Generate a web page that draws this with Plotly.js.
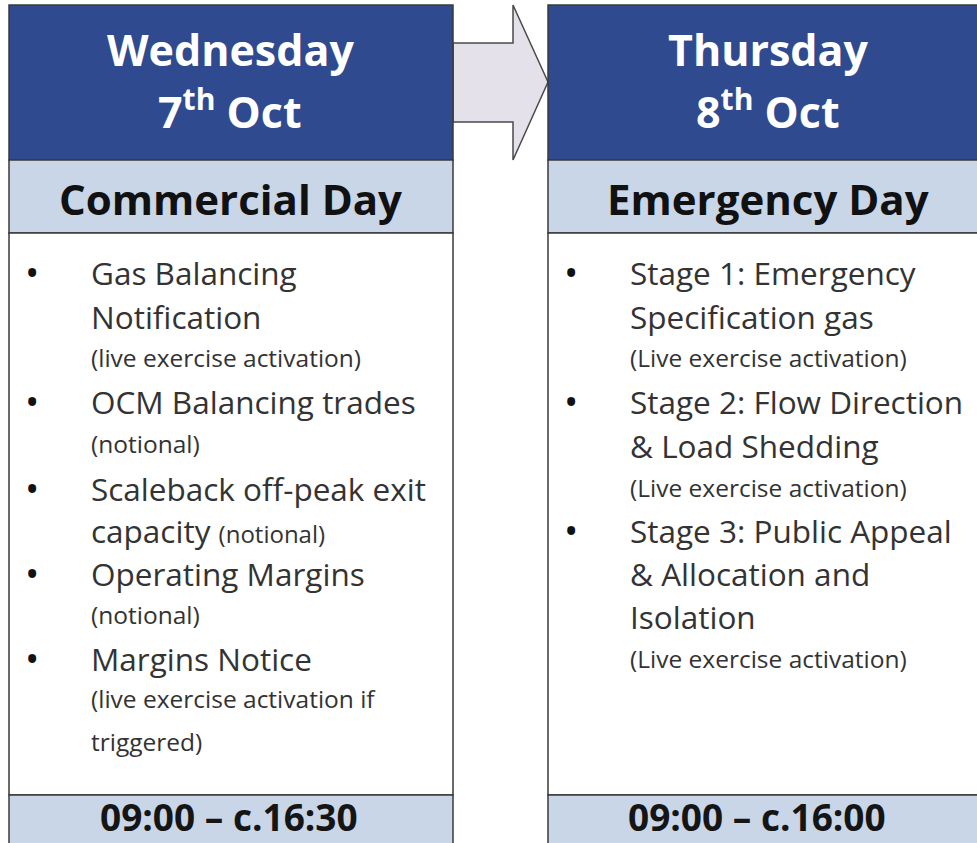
<!DOCTYPE html>
<html>
<head>
<meta charset="utf-8">
<script src="https://cdn.plot.ly/plotly-3.0.1.min.js"></script>
<style>
  html, body { margin: 0; padding: 0; background: #ffffff; }
  #chart { width: 977px; height: 843px; }
</style>
</head>
<body>
<div id="chart"></div>
<script>
// content of the two day panels
var dayNames = ['Wednesday', 'Thursday'];
var dayDates = ['7<sup>th</sup> Oct', '8<sup>th</sup> Oct'];
var dayTypes = ['Commercial Day', 'Emergency Day'];
var dayTimes = ['09:00 \u2013 c.16:30', '09:00 \u2013 c.16:00'];

// body lines: [text, kind] where kind = 'b' bullet line, 'm' main line, 's' small note
var commercialLines = [
    ['Gas Balancing', 'b'],
    ['Notification', 'm'],
    ['(live exercise activation)', 's'],
    ['OCM Balancing trades', 'b'],
    ['(notional)', 's'],
    ['Scaleback off-peak exit', 'b'],
    ['capacity <span style="font-size:24px">(notional)</span>', 'm'],
    ['Operating Margins', 'b'],
    ['(notional)', 's'],
    ['Margins Notice', 'b'],
    ['(live exercise activation if', 's'],
    ['triggered)', 's']
];
var emergencyLines = [
    ['Stage 1: Emergency', 'b'],
    ['Specification gas', 'm'],
    ['(Live exercise activation)', 's'],
    ['Stage 2: Flow Direction', 'b'],
    ['& Load Shedding', 'm'],
    ['(Live exercise activation)', 's'],
    ['Stage 3: Public Appeal', 'b'],
    ['& Allocation and', 'm'],
    ['Isolation', 'm'],
    ['(Live exercise activation)', 's']
];
var commercialRows = [272, 316, 357, 401, 443, 488, 530, 573, 614, 658, 698, 741];
var emergencyRows = [272, 316, 357, 401, 445, 487, 530, 573, 616, 658];

var FONT = '"Open Sans", "Noto Sans", sans-serif';
var darkBlue = '#2f4a8e';
var lightBlue = '#c8d6e8';
var edge = '#3a3a3a';

var panels = [
    { x0: 9, x1: 453, cx: 230, tx: 229, lines: commercialLines, rows: commercialRows },
    { x0: 548, x1: 992, cx: 768, tx: 757, lines: emergencyLines, rows: emergencyRows }
];

var shapes = [];
var annotations = [];

// arrow between the panels
shapes.push({
    type: 'path',
    path: 'M 453 43 L 513 43 L 513 5 L 548 82 L 513 160 L 513 122 L 453 122 Z',
    fillcolor: '#e4e1ea',
    line: { color: '#4a4a4a', width: 1.5 },
    layer: 'below'
});

panels.forEach(function (p, i) {
    // header
    shapes.push({ type: 'rect', x0: p.x0, x1: p.x1, y0: 5, y1: 160,
        fillcolor: darkBlue, line: { color: edge, width: 1.5 } });
    // type band
    shapes.push({ type: 'rect', x0: p.x0, x1: p.x1, y0: 160, y1: 233,
        fillcolor: lightBlue, line: { color: edge, width: 1.5 } });
    // body
    shapes.push({ type: 'rect', x0: p.x0, x1: p.x1, y0: 233, y1: 795,
        fillcolor: '#ffffff', line: { color: edge, width: 1.5 } });
    // footer
    shapes.push({ type: 'rect', x0: p.x0, x1: p.x1, y0: 795, y1: 860,
        fillcolor: lightBlue, line: { color: edge, width: 1.5 } });

    annotations.push({ x: p.cx, y: 49, text: dayNames[i], showarrow: false,
        xanchor: 'center', yanchor: 'middle',
        font: { family: FONT, size: 43, color: '#ffffff', weight: 'bold' } });
    annotations.push({ x: p.cx, y: 109, text: dayDates[i], showarrow: false,
        xanchor: 'center', yanchor: 'middle',
        font: { family: FONT, size: 43, color: '#ffffff', weight: 'bold' } });
    annotations.push({ x: p.cx, y: 198, text: dayTypes[i], showarrow: false,
        xanchor: 'center', yanchor: 'middle',
        font: { family: FONT, size: 42, color: '#111111', weight: 'bold' } });
    annotations.push({ x: p.tx, y: 816, text: dayTimes[i], showarrow: false,
        xanchor: 'center', yanchor: 'middle',
        font: { family: FONT, size: 37, color: '#151515', weight: 'bold' } });

    var textX = p.x0 + 80;
    var bulletX = p.x0 + 23;
    p.lines.forEach(function (ln, k) {
        var small = ln[1] === 's';
        annotations.push({ x: textX, y: p.rows[k], text: ln[0], showarrow: false,
            xanchor: 'left', yanchor: 'middle',
            font: { family: FONT, size: small ? 24.5 : 31.5, color: '#333333' } });
        if (ln[1] === 'b') {
            annotations.push({ x: bulletX, y: p.rows[k], text: '\u2022', showarrow: false,
                xanchor: 'center', yanchor: 'middle',
                font: { family: FONT, size: 38, color: '#111111' } });
        }
    });
});

var layout = {
    width: 977,
    height: 843,
    margin: { l: 0, r: 0, t: 0, b: 0 },
    paper_bgcolor: '#ffffff',
    plot_bgcolor: '#ffffff',
    xaxis: { range: [0, 977], visible: false, fixedrange: true },
    yaxis: { range: [843, 0], visible: false, fixedrange: true },
    showlegend: false,
    shapes: shapes,
    annotations: annotations
};

Plotly.newPlot('chart', [], layout, { displayModeBar: false, staticPlot: true });
</script>
</body>
</html>
